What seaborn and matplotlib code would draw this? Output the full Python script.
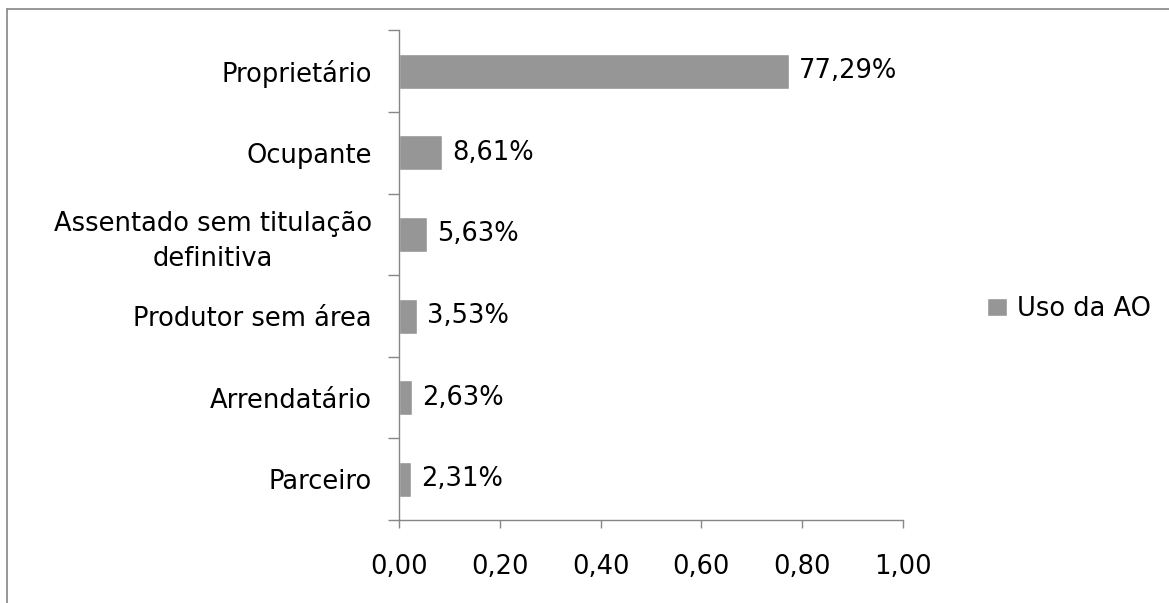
import matplotlib
matplotlib.use("Agg")
import matplotlib.pyplot as plt
from matplotlib.lines import Line2D
from matplotlib.ticker import FixedLocator, FuncFormatter
import numpy as np
import pandas as pd
import seaborn as sns

# Land tenure condition of producers and their share of use
categorias = [
    "Proprietário",
    "Ocupante",
    "Assentado sem titulação\ndefinitiva",
    "Produtor sem área",
    "Arrendatário",
    "Parceiro",
]
valores = [0.7729, 0.0861, 0.0563, 0.0353, 0.0263, 0.0231]
serie = "Uso da AO"
rotulos = ["77,29%", "8,61%", "5,63%", "3,53%", "2,63%", "2,31%"]
ticks_x = [0.0, 0.2, 0.4, 0.6, 0.8, 1.0]

cinza_barra = "#969696"
cinza_eixo = "#868686"

sns.set_theme(style="white")
plt.rcParams["font.family"] = ["DejaVu Sans"]
plt.rcParams["text.color"] = "black"
fs = 18.5

df = pd.DataFrame({"categoria": categorias, "valor": valores, "serie": serie})

fig = plt.figure(figsize=(11.69, 6.03), dpi=100)
ax = fig.add_axes([399 / 1169, 1 - 520 / 603, (903 - 399) / 1169, (520 - 30.5) / 603])

sns.barplot(
    data=df, y="categoria", x="valor", hue="serie",
    palette=[cinza_barra], width=0.43, orient="h", ax=ax,
    saturation=1, legend=True,
)

ax.set_xlim(0, 1.0)
ax.set_ylim(5.5, -0.5)
ax.set_xlabel("")
ax.set_ylabel("")

# x axis ticks and comma-decimal labels
ax.xaxis.set_major_locator(FixedLocator(ticks_x))
ax.xaxis.set_major_formatter(FuncFormatter(lambda v, p: f"{v:.2f}".replace(".", ",")))
ax.tick_params(axis="x", which="major", direction="out", length=5.8, width=1,
               color=cinza_eixo, labelsize=fs, labelcolor="black", pad=19, bottom=True)

# y axis: category labels without ticks, boundary ticks between categories
ax.set_yticks(range(len(categorias)))
ax.set_yticklabels(categorias, multialignment="center", linespacing=1.45)
ax.yaxis.set_minor_locator(FixedLocator(np.arange(-0.5, len(categorias), 1.0)))
ax.tick_params(axis="y", which="major", length=0, labelsize=fs, labelcolor="black", pad=19.4)
ax.tick_params(axis="y", which="minor", direction="out", length=8, width=1,
               color=cinza_eixo, left=True)

for s in ["top", "right"]:
    ax.spines[s].set_visible(False)
for s in ["left", "bottom"]:
    ax.spines[s].set_color(cinza_eixo)
    ax.spines[s].set_linewidth(1)

# value labels at bar ends
ax.bar_label(ax.containers[0], labels=rotulos, padding=7.2, fontsize=fs, color="black")

sns.move_legend(
    ax, loc="center left", bbox_to_anchor=(987 / 1169, 1 - 309 / 603),
    bbox_transform=fig.transFigure, frameon=False, title=None,
    fontsize=fs, handlelength=0.78, handleheight=0.75, handletextpad=0.4,
    borderpad=0, borderaxespad=0, labelcolor="black",
)

# outer chart frame
fig.add_artist(Line2D([7.3 / 1169, 1.0], [1 - 9.3 / 603] * 2, transform=fig.transFigure,
                      color=cinza_eixo, linewidth=1.2))
fig.add_artist(Line2D([7.3 / 1169] * 2, [0.0, 1 - 9.3 / 603], transform=fig.transFigure,
                      color=cinza_eixo, linewidth=1.2))

fig.savefig("out.png", dpi=100, facecolor="white")
